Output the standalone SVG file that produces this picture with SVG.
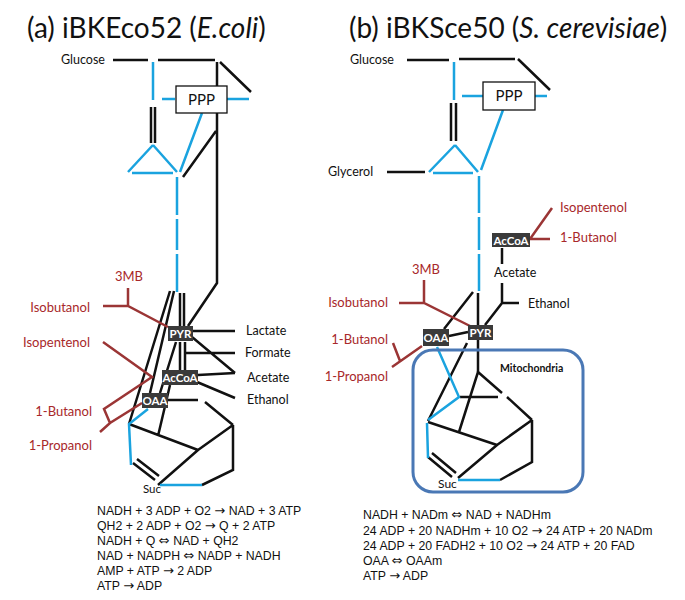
<svg xmlns="http://www.w3.org/2000/svg" width="685" height="600" viewBox="0 0 685 600">
<style>
.k{stroke:#111;stroke-width:2.5;fill:none}
.b{stroke:#1AA3DF;stroke-width:2.5;fill:none}
.r{stroke:#9B3535;stroke-width:2.5;fill:none}
.t{font-family:Lato,"Open Sans",sans-serif;fill:#111}
.title{font-size:28px}
.lbl{font-size:12.5px}
.red{font-size:13px;fill:#A8282A}
.box{fill:#3A3A3A}
.bt{font-family:Lato,"Open Sans",sans-serif;font-weight:bold;font-size:11.5px;fill:#fff;text-anchor:middle}
.ppp{fill:#fff;stroke:#111;stroke-width:1.3}
.pt{font-family:Lato,"Open Sans",sans-serif;font-size:15px;fill:#111;text-anchor:middle}
.eq{font-family:"Liberation Sans",Arial,sans-serif;font-size:12.3px;fill:#111}
.ar{font-family:"DejaVu Sans",sans-serif;font-size:13px}
.mito{fill:none;stroke:#4A78B5;stroke-width:3}
</style>
<rect width="685" height="600" fill="#fff"/>
<g id="title-a"><text class="t title" x="27" y="38">(a) iBKEco52 (<tspan font-style="italic">E.coli</tspan>)</text></g>
<g id="title-b"><text class="t title" x="349" y="38">(b) iBKSce50 (<tspan font-style="italic">S. cerevisiae</tspan>)</text></g>

<g id="connectors">
<!-- panel a black -->
<path class="k" d="M113,60H148M158,60H215M217,62V283L188,326M220,62L251,92M151,107V143M155,107V143M183,177L216,131"/>
<path class="k" d="M170,291L129,424M174,291L150,393M180,293V326M184,293V326M180,342V370M185,342V370M176,342L160,393"/>
<path class="k" d="M193,331H235M185,353H235M192,337L235,373M198,375L235,373M197,382L235,398M168,400H198M205,402L233,425M233,425V470L202,485M233,425L198,450M129,424L198,450M198,450L158,485M158,436L170,385M133,463L155,480M137,459L159,476"/>
<!-- panel a blue -->
<path class="b" d="M153,62V100M162,99H175M227,99H249M153,145L128,172M153,145L177,172M132,173H173M202,113L180,172M177,177V215M177,219V250M177,254V292M148,409L129,424L131,465M160,485H202"/>
<!-- panel a red -->
<path class="r" d="M128,288V306M103,306H128L168,327M103,342L152,377L104,409L110,423M100,432L110,423L142,403"/>
<!-- panel b black -->
<path class="k" d="M407,60H449M459,59H515M518,59L550,90M451,103V141M456,103V141M387,172H425"/>
<path class="k" d="M502,248V264M502,283V303L485,325M502,303H519M473,292L444,329M478,293V325M449,336L468,332M478,340V372"/>
<path class="k" d="M478,372L502,393M507,397L532,420M478,372L459,432M460,397H498M428,422L497,445M532,420L497,445M532,420V462L500,480M497,445L458,478M467,343L428,421M428,457L452,477M432,453L456,473"/>
<!-- panel b blue -->
<path class="b" d="M454,62V100M462,96H483M535,96H547M455,145L429,172M455,145L478,172M433,173H473M503,110L481,170M479,176V213M479,217V250M479,254V291M437,347L459,397L428,420M427,423L428,458M458,480H500"/>
<!-- panel b red -->
<path class="r" d="M424,280V302M399,303H424L470,326M422,346L392,367M393,343L400,361M530,239L552,208M530,239H550"/>
</g>

<g id="glucose-a"><text class="t lbl" x="61" y="64">Glucose</text></g>
<g id="ppp-a"><rect class="ppp" x="176" y="86" width="51" height="27"/><text class="pt" x="201.5" y="105">PPP</text></g>
<g id="pyr-a"><rect class="box" x="168" y="326" width="25" height="15"/><text class="bt" x="180.5" y="338">PYR</text></g>
<g id="accoa-a"><rect class="box" x="162" y="370" width="36" height="15"/><text class="bt" x="180" y="382">AcCoA</text></g>
<g id="oaa-a"><rect class="box" x="142" y="393" width="26" height="15"/><text class="bt" x="155" y="405">OAA</text></g>
<g id="lactate-a"><text class="t lbl" x="246" y="335">Lactate</text></g>
<g id="formate-a"><text class="t lbl" x="245" y="357">Formate</text></g>
<g id="acetate-a"><text class="t lbl" x="247" y="382">Acetate</text></g>
<g id="ethanol-a"><text class="t lbl" x="247" y="404">Ethanol</text></g>
<g id="suc-a"><text class="t" font-size="11.5" x="143" y="493">Suc</text></g>
<g id="3mb-a"><text class="t red" x="115" y="281">3MB</text></g>
<g id="isobutanol-a"><text class="t red" x="90" y="312" text-anchor="end">Isobutanol</text></g>
<g id="isopentenol-a"><text class="t red" x="90" y="347" text-anchor="end">Isopentenol</text></g>
<g id="butanol-a"><text class="t red" x="92" y="416" text-anchor="end">1-Butanol</text></g>
<g id="propanol-a"><text class="t red" x="92" y="450" text-anchor="end">1-Propanol</text></g>
<g id="eq-a">
<text class="eq" x="97" y="515">NADH + 3 ADP + O2 <tspan class="ar">→</tspan> NAD + 3 ATP</text>
<text class="eq" x="97" y="530">QH2 + 2 ADP + O2 <tspan class="ar">→</tspan> Q + 2 ATP</text>
<text class="eq" x="97" y="545">NADH + Q <tspan class="ar">⇔</tspan> NAD + QH2</text>
<text class="eq" x="97" y="560">NAD + NADPH  <tspan class="ar">⇔</tspan> NADP + NADH</text>
<text class="eq" x="97" y="575">AMP + ATP <tspan class="ar">→</tspan> 2 ADP</text>
<text class="eq" x="97" y="590">ATP <tspan class="ar">→</tspan> ADP</text>
</g>

<g id="glucose-b"><text class="t lbl" x="350" y="64">Glucose</text></g>
<g id="glycerol-b"><text class="t lbl" x="328" y="176">Glycerol</text></g>
<g id="ppp-b"><rect class="ppp" x="483" y="82" width="52" height="28"/><text class="pt" x="509" y="101">PPP</text></g>
<g id="accoa-b"><rect class="box" x="492" y="233" width="38" height="14"/><text class="bt" x="511" y="244.5">AcCoA</text></g>
<g id="acetate-b"><text class="t lbl" x="494" y="277">Acetate</text></g>
<g id="ethanol-b"><text class="t lbl" x="528" y="308">Ethanol</text></g>
<g id="pyr-b"><rect class="box" x="468" y="325" width="25" height="15"/><text class="bt" x="480.5" y="337">PYR</text></g>
<g id="oaa-b"><rect class="box" x="423" y="329" width="26" height="17"/><text class="bt" x="436" y="342">OAA</text></g>
<g id="mito-b"><rect class="mito" x="413" y="350" width="170" height="142" rx="20"/><text class="t" font-size="10.5" font-weight="bold" x="500" y="372">Mitochondria</text></g>
<g id="suc-b"><text class="t" font-size="12" x="438" y="488">Suc</text></g>
<g id="3mb-b"><text class="t red" x="412" y="274">3MB</text></g>
<g id="isobutanol-b"><text class="t red" x="388" y="307" text-anchor="end">Isobutanol</text></g>
<g id="butanol-b"><text class="t red" x="388" y="344" text-anchor="end">1-Butanol</text></g>
<g id="propanol-b"><text class="t red" x="388" y="381" text-anchor="end">1-Propanol</text></g>
<g id="isopentenol-b"><text class="t red" x="560" y="212">Isopentenol</text></g>
<g id="butanol2-b"><text class="t red" x="560" y="242">1-Butanol</text></g>
<g id="eq-b">
<text class="eq" x="363" y="519">NADH + NADm <tspan class="ar">⇔</tspan> NAD + NADHm</text>
<text class="eq" x="363" y="535">24 ADP + 20 NADHm  + 10 O2 <tspan class="ar">→</tspan> 24 ATP + 20 NADm</text>
<text class="eq" x="363" y="550">24 ADP + 20 FADH2 + 10 O2 <tspan class="ar">→</tspan> 24 ATP + 20 FAD</text>
<text class="eq" x="363" y="565">OAA <tspan class="ar">⇔</tspan> OAAm</text>
<text class="eq" x="363" y="580">ATP <tspan class="ar">→</tspan> ADP</text>
</g>
</svg>
